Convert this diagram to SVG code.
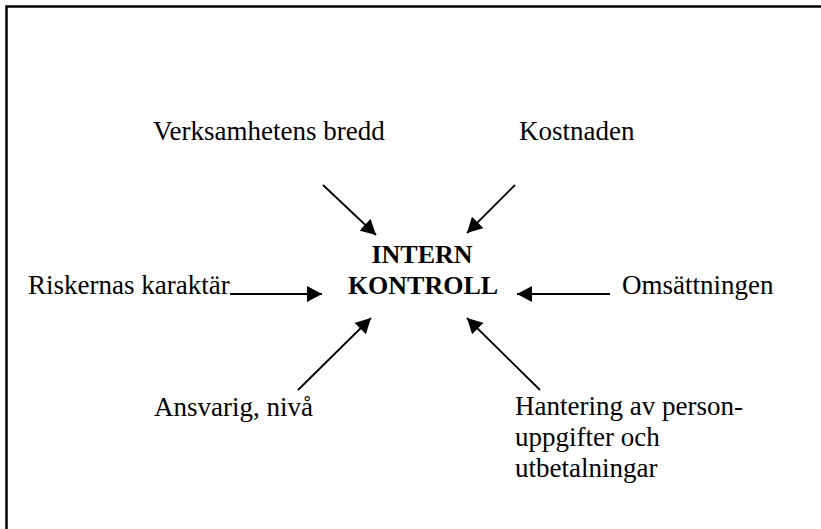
<svg xmlns="http://www.w3.org/2000/svg" width="821" height="529" viewBox="0 0 821 529">
<style>
  .lbl { font-family: "Liberation Serif", "Times New Roman", serif; font-size: 27px; fill: #000; }
  .title { font-family: "Liberation Serif", "Times New Roman", serif; font-size: 26px; font-weight: bold; fill: #000; text-anchor: middle; }
  .conn { stroke: #000; stroke-width: 1.8; fill: none; marker-end: url(#ah); }
  .frame { stroke: #000; stroke-width: 2.5; fill: none; }
</style>
<defs>
  <marker id="ah" markerUnits="userSpaceOnUse" markerWidth="16" markerHeight="16" refX="15" refY="8" orient="auto">
    <path d="M0,0 L15,8 L0,16 z" fill="#000"/>
  </marker>
</defs>
<rect width="821" height="529" fill="#fff"/>
<path class="frame" d="M6.5,529 V6.5 H821"/>

<g id="center">
  <text class="title" x="422" y="263">INTERN</text>
  <text class="title" x="423" y="294">KONTROLL</text>
</g>
<g id="verksamhet"><text class="lbl" x="153" y="140">Verksamhetens bredd</text></g>
<g id="kostnaden"><text class="lbl" x="519" y="140">Kostnaden</text></g>
<g id="risker"><text class="lbl" x="28" y="294">Riskernas karaktär</text></g>
<g id="omsattning"><text class="lbl" x="622" y="294">Omsättningen</text></g>
<g id="ansvarig"><text class="lbl" x="154" y="416">Ansvarig, nivå</text></g>
<g id="hantering">
  <text class="lbl" x="515" y="415">Hantering av person-</text>
  <text class="lbl" x="515" y="446">uppgifter och</text>
  <text class="lbl" x="515" y="477">utbetalningar</text>
</g>

<g id="connectors">
  <line class="conn" x1="323" y1="185" x2="376" y2="235"/>
  <line class="conn" x1="515" y1="185" x2="467" y2="233"/>
  <line class="conn" x1="230" y1="294" x2="322" y2="294"/>
  <line class="conn" x1="610" y1="294" x2="517" y2="294"/>
  <line class="conn" x1="298" y1="390" x2="371" y2="318"/>
  <line class="conn" x1="540" y1="390" x2="467" y2="318"/>
</g>
</svg>
